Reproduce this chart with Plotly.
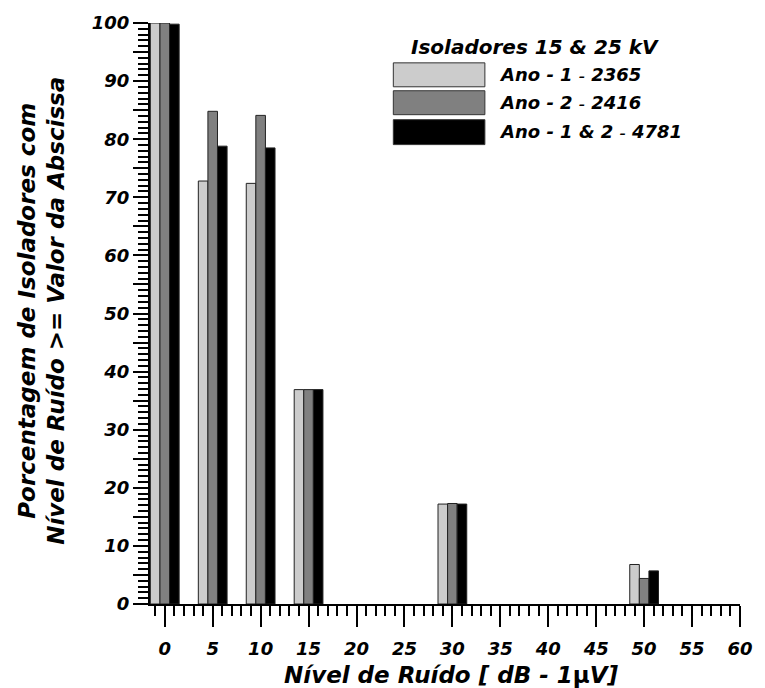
import plotly.graph_objects as go

# Data
noise_levels = [0, 5, 10, 15, 20, 25, 30, 35, 40, 45, 50, 55, 60]
ano1 = [100.0, 72.8, 72.4, 36.9, 0, 0, 17.2, 0, 0, 0, 6.8, 0, 0]
ano2 = [100.0, 84.8, 84.1, 36.9, 0, 0, 17.3, 0, 0, 0, 4.4, 0, 0]
ano12 = [99.8, 78.8, 78.5, 36.9, 0, 0, 17.2, 0, 0, 0, 5.7, 0, 0]
series_names = ["Ano - 1 <span style='font-size:12px'>–</span> 2365",
                "Ano - 2 <span style='font-size:12px'>–</span> 2416",
                "Ano - 1 & 2 <span style='font-size:12px'>–</span> 4781"]
colors = ["#cccccc", "#808080", "#000000"]
offsets = [-1.5, -0.5, 0.5]
y_hidden_labels = {str(v): " " for v in range(5, 100, 10)}

FONT = "DejaVu Sans"
fig = go.Figure()
for vals, name, col, off in zip([ano1, ano2, ano12], series_names, colors, offsets):
    shown = [v if v > 0 else None for v in vals]
    fig.add_trace(go.Bar(x=noise_levels, y=shown, name=name, width=1, offset=off,
                         marker=dict(color=col, line=dict(color="#222222", width=1)),
                         showlegend=False))

fig.update_layout(
    width=765, height=688,
    margin=dict(l=150, r=16, t=21, b=84),
    barmode="overlay",
    plot_bgcolor="white", paper_bgcolor="white",
    font=dict(family=FONT, size=18, color="black", weight="bold", style="italic"),
)
fig.update_xaxes(range=[-1.54, 60], showgrid=False, zeroline=False,
                 showline=True, linecolor="black", linewidth=2,
                 tickmode="linear", tick0=0, dtick=5,
                 ticks="outside", ticklen=21, tickwidth=2, tickcolor="black",
                 ticklabelstandoff=6,
                 tickfont=dict(family=FONT, size=18, weight="bold", style="italic"),
                 minor=dict(tickmode="linear", tick0=0, dtick=1, ticks="outside", ticklen=10,
                            tickwidth=2, tickcolor="black", showgrid=False))
fig.update_yaxes(range=[0, 100], showgrid=False, zeroline=False,
                 showline=True, linecolor="black", linewidth=2,
                 tickmode="linear", tick0=0, dtick=5, labelalias=y_hidden_labels,
                 ticks="outside", ticklen=15, tickwidth=2, tickcolor="black",
                 tickfont=dict(family=FONT, size=18, weight="bold", style="italic"),
                 minor=dict(tickmode="linear", tick0=0, dtick=1, ticks="outside", ticklen=10,
                            tickwidth=1.5, tickcolor="black", showgrid=False))

# Axis titles
fig.add_annotation(xref="paper", yref="paper", x=0.51, y=-0.122, xanchor="center", yanchor="middle",
                   showarrow=False,
                   text="Nível de Ruído [ dB - 1<span style='font-style:normal'>μ</span>V]",
                   font=dict(family=FONT, size=23, weight="bold", style="italic"))
fig.add_annotation(xref="paper", yref="paper", x=-0.1836, y=0.504, xanchor="center", yanchor="middle",
                   showarrow=False, textangle=-90,
                   text="Porcentagem de Isoladores com<br>Nível de Ruído >= Valor da Abscissa",
                   font=dict(family=FONT, size=23, weight="bold", style="italic"))

# Legend (drawn manually)
fig.add_annotation(xref="paper", yref="paper", x=0.652, y=0.9588, xanchor="center", yanchor="middle",
                   showarrow=False, text="Isoladores 15 & 25 kV",
                   font=dict(family=FONT, size=20, weight="bold", style="italic"))
boxes = [(0.9314, 0.8902), (0.8834, 0.8422), (0.8336, 0.7907)]
label_y = [0.9108, 0.8628, 0.8130]
for (y1, y0), col, name, ly in zip(boxes, colors, series_names, label_y):
    fig.add_shape(type="rect", xref="paper", yref="paper", x0=0.4124, x1=0.5676, y0=y0, y1=y1,
                  fillcolor=col, line=dict(color="#333333", width=1))
    fig.add_annotation(xref="paper", yref="paper", x=0.5876, y=ly, xanchor="left", yanchor="middle",
                       showarrow=False, text=name,
                       font=dict(family=FONT, size=18, weight="bold", style="italic"))

fig.write_html("out.html")
